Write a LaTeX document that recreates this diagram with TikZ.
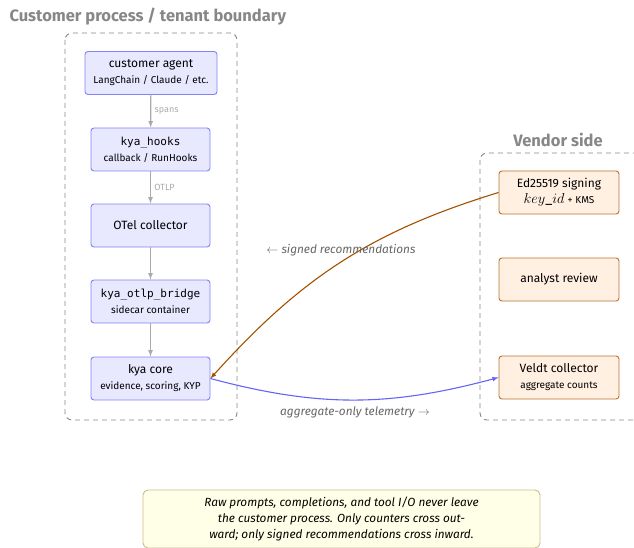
\documentclass[tikz,border=0pt]{standalone}
\usepackage{fontspec}
\setmainfont{Fira Sans}
\setmonofont[Scale=0.92]{DejaVu Sans Mono}
\usepackage{xcolor}
\usetikzlibrary{arrows}
\usetikzlibrary{calc}
\definecolor{custfill}{RGB}{232,232,255}
\definecolor{custline}{RGB}{130,130,250}
\definecolor{vendfill}{RGB}{255,240,226}
\definecolor{vendline}{RGB}{185,115,50}
\definecolor{signcol}{RGB}{165,80,0}
\definecolor{telecol}{RGB}{100,100,250}
\definecolor{flowgray}{RGB}{170,170,170}
\definecolor{zonegray}{RGB}{135,135,135}
\definecolor{notefill}{RGB}{255,255,232}
\definecolor{noteline}{RGB}{200,190,140}
\newcommand{\subtxt}[1]{{\fontsize{10}{12}\selectfont #1}}

\begin{document}
\begin{tikzpicture}[x=1pt, y=1pt, line/.style={>=latex},
	cust/.style={draw=custline, fill=custfill, line width=0.9pt, rounded corners=3pt, minimum width=119pt, minimum height=43pt, align=center, font=\fontsize{12}{16}\selectfont},
	vend/.style={draw=vendline, fill=vendfill, line width=0.9pt, rounded corners=3pt, minimum width=120pt, minimum height=43pt, align=center, font=\fontsize{12}{16}\selectfont},
	zone/.style={draw=zonegray, line width=0.9pt, dash pattern=on 5pt off 4pt, rounded corners=7pt},
	zonetitle/.style={text=zonegray, font=\fontsize{16.5}{18}\selectfont\bfseries},
	lab/.style={text=flowgray, font=\fontsize{9}{10}\selectfont},
	crosslab/.style={text=black!60, font=\fontsize{11.8}{13}\selectfont\itshape}]
	\clip (0, 0) rectangle (634, -548);
	\draw[zone] (65, -33) rectangle (237, -420);
	\draw[zone] (480, -153) rectangle (660, -420);
	\node[zonetitle, anchor=west] (custtitle) at (6, -17) {Customer process / tenant boundary};
	\node[zonetitle] (vendtitle) at (558, -140) {Vendor side};
	\node[cust, minimum width=132pt] (agent) at (151, -73) {customer agent\\\subtxt{LangChain / Claude / etc.}};
	\node[cust] (hooks) at (150.5, -149.5) {\texttt{kya\_hooks}\\\subtxt{callback / RunHooks}};
	\node[cust] (otel) at (150.5, -225.5) {OTel collector};
	\node[cust] (bridge) at (150.5, -301.5) {\texttt{kya\_otlp\_bridge}\\\subtxt{sidecar container}};
	\node[cust] (core) at (150.5, -378.5) {kya core\\\subtxt{evidence, scoring, KYP}};
	\node[vend] (sign) at (559, -192.5) {Ed25519 signing\\{\fontsize{13.5}{16}\selectfont$key\_id$} \subtxt{+ KMS}};
	\node[vend] (review) at (559, -279.5) {analyst review};
	\node[vend] (veldt) at (559, -377.5) {Veldt collector\\\subtxt{aggregate counts}};
	\draw[->, line, color=flowgray, line width=1.2pt] (agent) -- node [right, lab] {spans} (hooks);
	\draw[->, line, color=flowgray, line width=1.2pt] (hooks) -- node [right, lab] {OTLP} (otel);
	\draw[->, line, color=flowgray, line width=1.2pt] (otel) -- (bridge);
	\draw[->, line, color=flowgray, line width=1.2pt] (bridge) -- (core);
	\draw[->, line, color=signcol, line width=1.1pt] (sign.west) to [out=197, in=48] (core.east);
	\draw[->, line, color=telecol, line width=1.1pt] (core.east) to [out=-15, in=195] (veldt.west);
	\node[crosslab] (signlab) at (341, -250) {$\leftarrow$ signed recommendations};
	\node[crosslab] (telelab) at (355, -412) {aggregate-only telemetry $\rightarrow$};
	\node[draw=noteline, fill=notefill, line width=0.9pt, rounded corners=5pt, minimum width=397pt, minimum height=58pt, align=center, font=\fontsize{11.8}{16}\selectfont\itshape] (note) at (341.5, -519) {Raw prompts, completions, and tool I/O never leave\\the customer process. Only counters cross out-\\ward; only signed recommendations cross inward.};
\end{tikzpicture}
\end{document}
